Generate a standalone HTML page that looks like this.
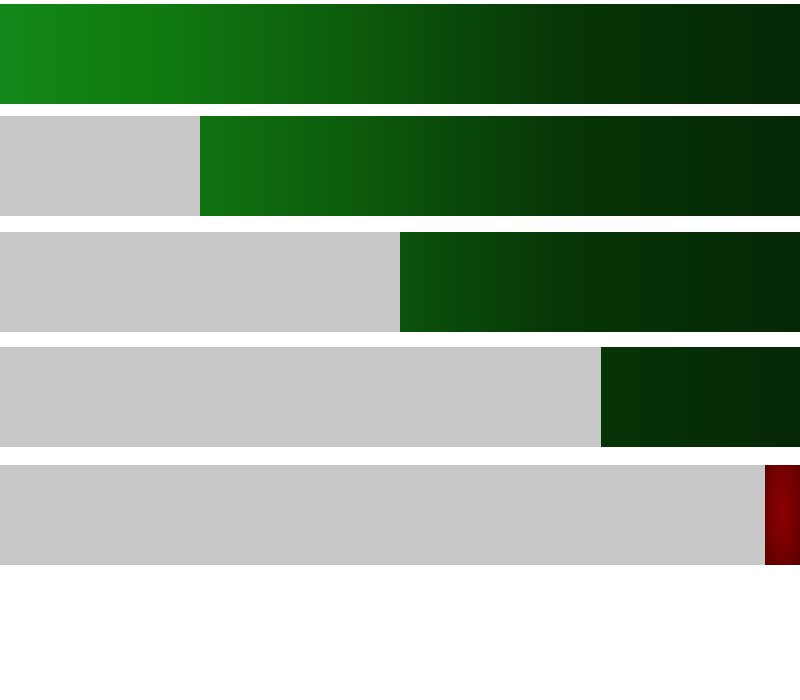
<!DOCTYPE html>
<html><head><meta charset="utf-8">
<style>
html,body{margin:0;padding:0;background:#fff;width:800px;height:700px;overflow:hidden;font-family:"Liberation Sans",sans-serif}
#chart{position:relative;width:800px;height:700px}
.bar{position:absolute;left:0;width:800px;height:100px;overflow:hidden}
.fill{position:absolute;top:0;height:100%;background:linear-gradient(90deg,#12871a 0%,#107a10 20%,#0c5a0c 45%,#073607 70%,#052805 100%)}
.fill.low{background:radial-gradient(ellipse at 50% 45%,#8c0000 0%,#740000 55%,#560000 100%)}
.empty{position:absolute;top:0;left:0;height:100%;background:#c8c8c8}
</style></head><body>
<div id="chart"></div>
<script>
const barLabels = ['bar-1','bar-2','bar-3','bar-4','bar-5'];
const remaining = [100, 75, 50, 24.9, 4.4];
const lowThreshold = 10;
const tops = [4,116,232,347,465];
const W = 800;
const x = v => W - v / 100 * W;
const chart = document.getElementById('chart');
remaining.forEach((v,i)=>{
  const b=document.createElement('div');
  b.className='bar';
  b.style.top=tops[i]+'px';
  
  
  const e=document.createElement('div');
  e.className='empty';
  e.style.width=x(v)+'px';
  
  
  const f=document.createElement('div');
  f.className='fill'+(v<lowThreshold?' low':'');
  f.style.left=x(v)+'px';
  f.style.width=(W-x(v))+'px';
  if(v>=lowThreshold){f.style.backgroundSize=W+'px 100%';f.style.backgroundPosition=(-x(v))+'px 0';}
  
  
  b.appendChild(e);b.appendChild(f);chart.appendChild(b);
});
</script>
</body></html>
